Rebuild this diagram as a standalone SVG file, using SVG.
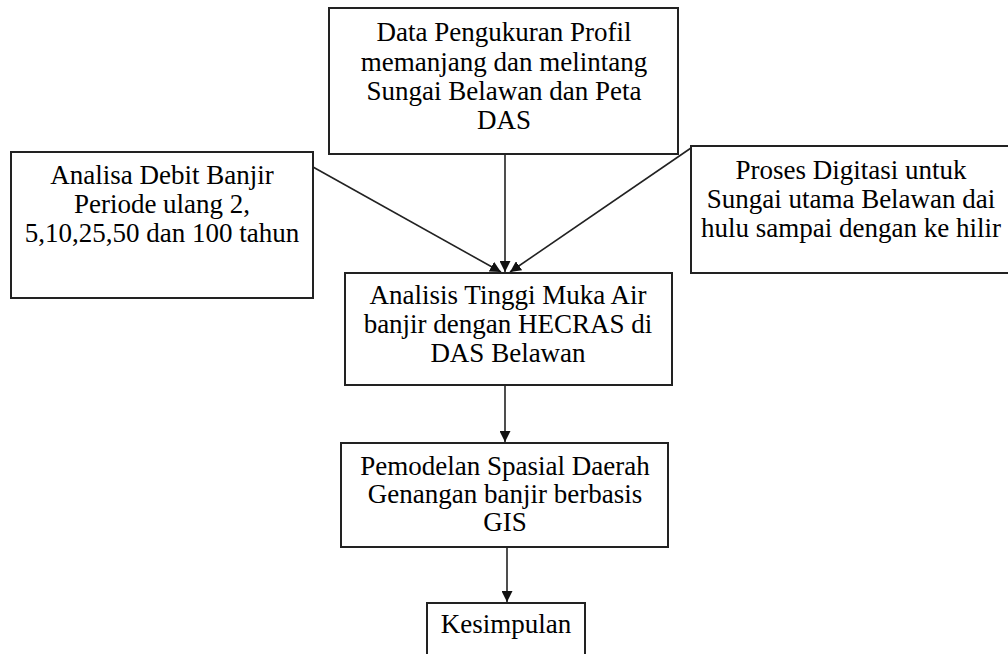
<svg xmlns="http://www.w3.org/2000/svg" width="1008" height="654" viewBox="0 0 1008 654">
<style>
.box{fill:#fff;stroke:#222;stroke-width:2}
.t{font-family:"Liberation Serif","Times New Roman",serif;font-size:27px;fill:#000;text-anchor:middle}
.c{stroke:#222;stroke-width:1.6;fill:none}
</style>
<defs>
<marker id="ah" viewBox="0 0 10 10" refX="10" refY="5" markerWidth="11" markerHeight="11" markerUnits="userSpaceOnUse" orient="auto">
<path d="M0,0 L10,5 L0,10 z" fill="#111"/>
</marker>
</defs>
<rect width="1008" height="654" fill="#fff"/>
<g id="connectors">
<line class="c" x1="313" y1="167" x2="501" y2="272" marker-end="url(#ah)"/>
<line class="c" x1="505" y1="154" x2="505" y2="272" marker-end="url(#ah)"/>
<line class="c" x1="691" y1="148" x2="510" y2="272" marker-end="url(#ah)"/>
<line class="c" x1="505" y1="385" x2="505" y2="442" marker-end="url(#ah)"/>
<line class="c" x1="507" y1="547" x2="507" y2="602" marker-end="url(#ah)"/>
</g>
<g id="data">
<rect class="box" x="329" y="8" width="349" height="146"/>
<text class="t" x="504" y="41">Data Pengukuran Profil</text>
<text class="t" x="504" y="71">memanjang dan melintang</text>
<text class="t" x="504" y="100">Sungai Belawan dan Peta</text>
<text class="t" x="504" y="129">DAS</text>
</g>
<g id="debit">
<rect class="box" x="11" y="152" width="302" height="146"/>
<text class="t" x="162" y="184">Analisa Debit Banjir</text>
<text class="t" x="162" y="213">Periode ulang 2,</text>
<text class="t" x="162" y="242">5,10,25,50 dan 100 tahun</text>
</g>
<g id="digitasi">
<rect class="box" x="691" y="146" width="320" height="127"/>
<text class="t" x="851" y="179">Proses Digitasi untuk</text>
<text class="t" x="851" y="208">Sungai utama Belawan dai</text>
<text class="t" x="851" y="237">hulu sampai dengan ke hilir</text>
</g>
<g id="analisis">
<rect class="box" x="345" y="273" width="327" height="112"/>
<text class="t" x="508" y="304">Analisis Tinggi Muka Air</text>
<text class="t" x="508" y="333">banjir dengan HECRAS di</text>
<text class="t" x="508" y="362">DAS Belawan</text>
</g>
<g id="pemodelan">
<rect class="box" x="341" y="443" width="327" height="104"/>
<text class="t" x="505" y="475">Pemodelan Spasial Daerah</text>
<text class="t" x="505" y="503">Genangan banjir berbasis</text>
<text class="t" x="505" y="531">GIS</text>
</g>
<g id="kesimpulan">
<rect class="box" x="427" y="603" width="158" height="60"/>
<text class="t" x="506" y="633">Kesimpulan</text>
</g>
</svg>
